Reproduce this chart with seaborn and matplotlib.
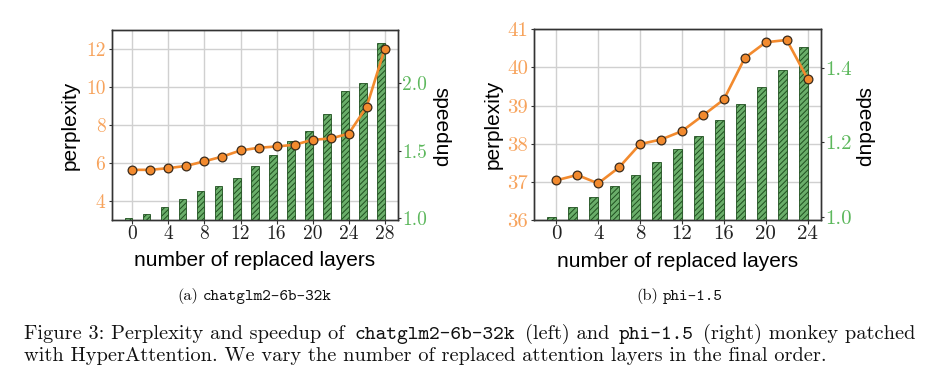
import matplotlib
matplotlib.use("Agg")
import matplotlib.pyplot as plt
import seaborn as sns
import pandas as pd

# ---------------- data ----------------
layers_a = [0, 2, 4, 6, 8, 10, 12, 14, 16, 18, 20, 22, 24, 26, 28]
ppl_a = [5.64, 5.64, 5.73, 5.85, 6.09, 6.34, 6.66, 6.80, 6.87, 6.96, 7.22, 7.29, 7.54, 8.96, 12.0]
speed_a = [1.00, 1.03, 1.08, 1.14, 1.20, 1.24, 1.30, 1.39, 1.47, 1.57, 1.65, 1.77, 1.94, 2.00, 2.30]

layers_b = [0, 2, 4, 6, 8, 10, 12, 14, 16, 18, 20, 22, 24]
ppl_b = [37.04, 37.18, 36.96, 37.38, 37.99, 38.11, 38.33, 38.74, 39.16, 40.25, 40.66, 40.72, 39.70]
speed_b = [1.00, 1.027, 1.053, 1.083, 1.112, 1.146, 1.182, 1.218, 1.261, 1.302, 1.350, 1.395, 1.457]

xticks_a = [0, 4, 8, 12, 16, 20, 24, 28]
ppl_ticks_a = [4, 6, 8, 10, 12]
spd_ticks_a = ["1.0", "1.5", "2.0"]
xticks_b = [0, 4, 8, 12, 16, 20, 24]
ppl_ticks_b = [36, 37, 38, 39, 40, 41]
spd_ticks_b = ["1.0", "1.2", "1.4"]

sub_a = ("(a)", "chatglm2-6b-32k")
sub_b = ("(b)", "phi-1.5")
caption_1 = [("Figure 3: Perplexity and speedup of", "rm"), ("chatglm2-6b-32k", "tt"),
             ("(left) and", "rm"), ("phi-1.5", "tt"), ("(right) monkey patched", "rm")]
caption_2 = [("with HyperAttention. We vary the number of replaced attention layers in the final order.", "rm")]

# ---------------- style ----------------
ORANGE_LINE = "#f28a2e"
ORANGE_TXT = "#f7a35c"
GREEN_TXT = "#5db85d"
BAR_FACE = "#6aae6a"
BAR_EDGE = "#1f4f1f"
SPINE = "#333333"
GRID = "#d0d0d0"
SANS = "Liberation Sans"
RM = "cmr10"
TT = "cmtt10"

plt.rcParams["hatch.linewidth"] = 0.7

W, H = 950, 384
fig = plt.figure(figsize=(W / 100, H / 100), dpi=100)


def px_rect(x0, y0, x1, y1):
    return [x0 / W, 1 - y1 / H, (x1 - x0) / W, (y1 - y0) / H]


def panel(rect, layers, ppl, speed, ppl_lim, spd_lim, xticks, ppl_ticks, spd_ticks, tsize):
    df = pd.DataFrame({"layers": layers, "perplexity": ppl, "speedup": speed})
    ax = fig.add_axes(rect)
    ax.set_axisbelow(True)
    ax.grid(True, color=GRID, linewidth=1.0)

    ax2 = ax.twinx()
    sns.barplot(data=df, x="layers", y="speedup", native_scale=True, width=0.425,
                color=BAR_FACE, saturation=1, edgecolor=BAR_EDGE, linewidth=0.6,
                hatch="//////", ax=ax2, zorder=2)
    for p in ax2.patches:
        p.set_x(p.get_x() - p.get_width() / 2)
        p.set_facecolor(BAR_FACE)

    ax3 = ax.twinx()
    sns.lineplot(data=df, x="layers", y="perplexity", ax=ax3, color=ORANGE_LINE,
                 linewidth=1.9, marker="o", markersize=6.3, markerfacecolor=ORANGE_LINE,
                 markeredgecolor="#3a2a1a", markeredgewidth=0.9)
    ax3.set_ylim(ppl_lim)
    ax3.set_axis_off()

    bar_w = 0.85
    lo = min(layers) - bar_w
    hi = max(layers)
    m = 0.05 * (hi - lo)
    ax.set_xlim(lo - m, hi + m)
    ax.set_ylim(ppl_lim)
    ax2.set_ylim(spd_lim)

    ax.set_xticks(xticks)
    ax.set_xticklabels([str(t) for t in xticks], family=RM, fontsize=tsize, color="#222222")
    ax.set_yticks(ppl_ticks)
    ax.set_yticklabels([str(t) for t in ppl_ticks], family=RM, fontsize=tsize, color=ORANGE_TXT)
    ax2.set_yticks([float(s) for s in spd_ticks])
    ax2.set_yticklabels(spd_ticks, family=RM, fontsize=tsize, color=GREEN_TXT)

    ax.tick_params(axis="x", length=3, width=0.8, pad=1, color=SPINE)
    ax.tick_params(axis="y", length=2.5, width=0.8, pad=2.0, color=SPINE)
    ax2.tick_params(axis="y", length=2.5, width=0.8, pad=0.8, color=SPINE)

    for a in (ax, ax2):
        for s in a.spines.values():
            s.set_color(SPINE)
            s.set_linewidth(1.0)

    ax.set_xlabel("number of replaced layers", family=SANS, fontsize=15, va="center")
    ax.xaxis.set_label_coords(0.5, -0.215)
    ax.set_ylabel("perplexity", family=SANS, fontsize=15, va="center")
    ax.yaxis.set_label_coords(-0.145, 0.5)
    ax2.set_ylabel("speedup", family=SANS, fontsize=15, rotation=270, va="center")
    ax2.yaxis.set_label_coords(1.15, 0.49)
    return ax


panel(px_rect(111.7, 30, 397.7, 220), layers_a, ppl_a, speed_a, (3, 13), (0.987, 2.395),
      xticks_a, ppl_ticks_a, spd_ticks_a, 14)
panel(px_rect(534.3, 29.3, 820.7, 220), layers_b, ppl_b, speed_b, (36, 41), (0.991, 1.504),
      xticks_b, ppl_ticks_b, spd_ticks_b, 15)

# ---------------- captions ----------------
renderer = fig.canvas.get_renderer()


def seq_text(x_px, y_px, parts, size, extra_gap=0.0):
    gap = 0.333 * size * 100 / 72 + extra_gap
    x = x_px
    for s, kind in parts:
        fam = RM if kind == "rm" else TT
        t = fig.text(x / W, 1 - y_px / H, s, family=fam, fontsize=size,
                     ha="left", va="baseline", color="#111111")
        bb = t.get_window_extent(renderer)
        x = bb.x1 + gap


seq_text(177, 300, [(sub_a[0], "rm"), (sub_a[1], "tt")], 11.8)
seq_text(636, 300, [(sub_b[0], "rm"), (sub_b[1], "tt")], 11.8)
seq_text(24, 339, caption_1, 14.7, extra_gap=3.0)
seq_text(24, 361, caption_2, 14.7)

fig.savefig("out.png", dpi=100)
